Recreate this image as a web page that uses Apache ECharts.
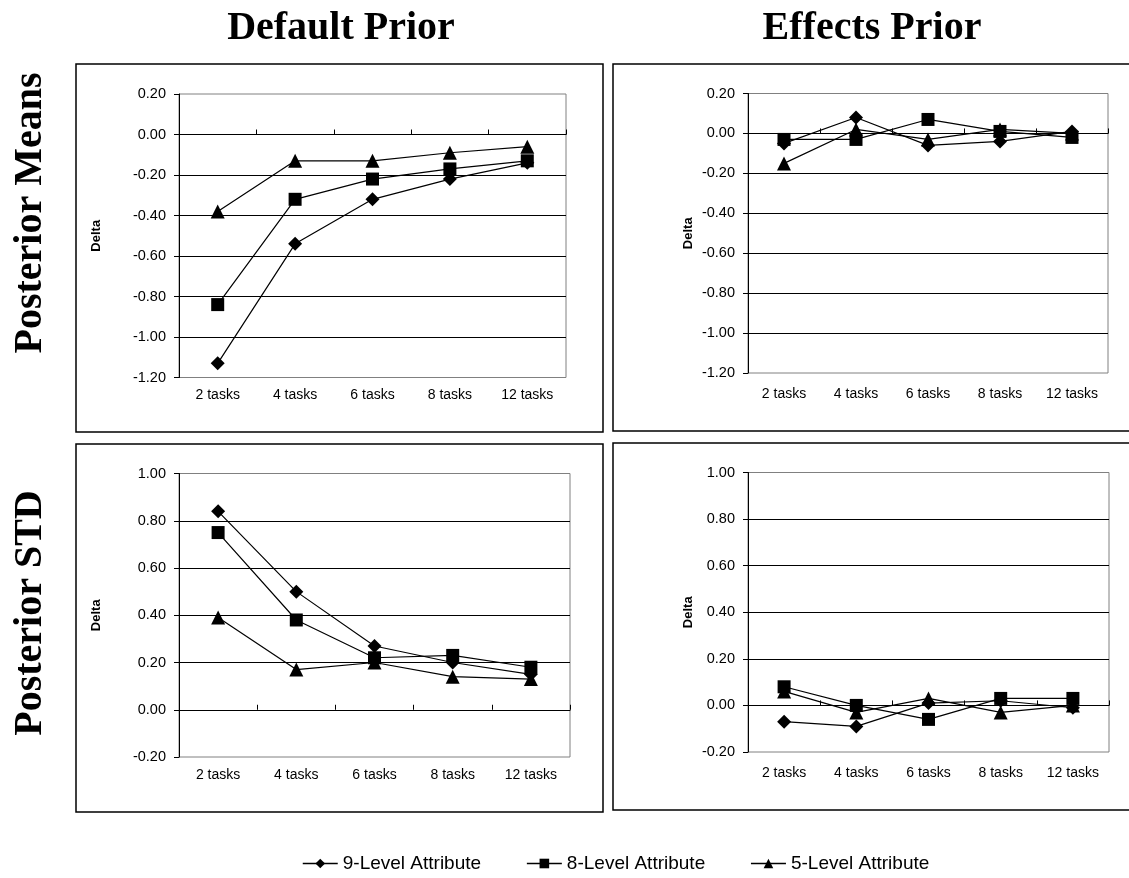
<!DOCTYPE html>
<html>
<head>
<meta charset="utf-8">
<script src="https://cdn.jsdelivr.net/npm/echarts@6/dist/echarts.min.js"></script>
<style>
  html, body { margin:0; padding:0; background:#fff; }
  #chart { width:1129px; height:878px; }
</style>
</head>
<body>
<div id="chart"></div>
<script>
// categories
const tasks = ['2 tasks', '4 tasks', '6 tasks', '8 tasks', '12 tasks'];
const seriesNames = ['9-Level Attribute', '8-Level Attribute', '5-Level Attribute'];

// posterior means, default prior
const defaultMeans9 = [-1.13, -0.54, -0.32, -0.22, -0.14];
const defaultMeans8 = [-0.84, -0.32, -0.22, -0.17, -0.13];
const defaultMeans5 = [-0.38, -0.13, -0.13, -0.09, -0.06];
// posterior means, effects prior
const effectsMeans9 = [-0.05, 0.08, -0.06, -0.04, 0.01];
const effectsMeans8 = [-0.03, -0.03, 0.07, 0.01, -0.02];
const effectsMeans5 = [-0.15, 0.02, -0.03, 0.02, 0.00];
// posterior std, default prior
const defaultStd9 = [0.84, 0.50, 0.27, 0.20, 0.15];
const defaultStd8 = [0.75, 0.38, 0.22, 0.23, 0.18];
const defaultStd5 = [0.39, 0.17, 0.20, 0.14, 0.13];
// posterior std, effects prior
const effectsStd9 = [-0.07, -0.09, 0.01, 0.02, -0.01];
const effectsStd8 = [0.08, 0.00, -0.06, 0.03, 0.03];
const effectsStd5 = [0.06, -0.03, 0.03, -0.03, 0.00];

const SANS = '"Liberation Sans", Arial, sans-serif';
const SERIF = '"Liberation Serif", "Times New Roman", serif';

let myChart = echarts.init(document.getElementById('chart'));

// plot areas, one per panel
const panels = [
    { grid:{ left:179, top:94, width:387, height:283.5 }, min:-1.2, max:0.2, gap:76, labelMargin:11,
      data:[defaultMeans9, defaultMeans8, defaultMeans5] },
    { grid:{ left:748, top:93.5, width:360, height:279.5 }, min:-1.2, max:0.2, gap:53, labelMargin:14,
      data:[effectsMeans9, effectsMeans8, effectsMeans5] },
    { grid:{ left:179, top:473.5, width:391, height:283.5 }, min:-0.2, max:1.0, gap:76, labelMargin:11,
      data:[defaultStd9, defaultStd8, defaultStd5] },
    { grid:{ left:748, top:472.5, width:361, height:279.5 }, min:-0.2, max:1.0, gap:53, labelMargin:14,
      data:[effectsStd9, effectsStd8, effectsStd5] },
];

const symbols = ['diamond', 'rect', 'triangle'];
const symbolSizes = [14, 13, 14];

let grids = [], xAxes = [], yAxes = [], seriesData = [];
panels.forEach((p, i)=>{
    grids.push(Object.assign({ show:true, borderColor:'#808080', borderWidth:1, backgroundColor:'transparent' }, p.grid));
    // label axis along the bottom of the plot
    xAxes.push({
        type:'category', gridIndex:i, data:tasks, position:'bottom',
        axisLine:{ show:false, onZero:false },
        axisTick:{ show:false },
        axisLabel:{ color:'#000', fontSize:14, fontFamily:SANS, margin:p.labelMargin, interval:0 },
        splitLine:{ show:false }
    });
    // axis line through zero with the category ticks
    xAxes.push({
        type:'category', gridIndex:i, data:tasks,
        axisLine:{ show:true, onZero:true, lineStyle:{ color:'#000', width:1 } },
        axisTick:{ show:true, length:5, lineStyle:{ color:'#000' } },
        axisLabel:{ show:false },
        splitLine:{ show:false }
    });
    yAxes.push({
        type:'value', gridIndex:i, min:p.min, max:p.max, interval:0.2,
        name:'Delta', nameLocation:'middle', nameRotate:90, nameGap:p.gap,
        nameTextStyle:{ color:'#000', fontSize:13, fontWeight:'bold', fontFamily:SANS },
        axisLine:{ show:true, lineStyle:{ color:'#000', width:1 } },
        axisTick:{ show:true, length:5, lineStyle:{ color:'#000' } },
        axisLabel:{ color:'#000', fontSize:14.5, fontFamily:SANS, margin:13,
            formatter:(v)=>v.toFixed(2) },
        splitLine:{ show:true, showMinLine:false, showMaxLine:false, lineStyle:{ color:'#000', width:1 } }
    });
    p.data.forEach((arr, k)=>{
        seriesData.push({
            type:'line', name:seriesNames[k],
            xAxisIndex:i * 2, yAxisIndex:i,
            data:arr,
            symbol:symbols[k], symbolSize:symbolSizes[k], showSymbol:true, showAllSymbol:true,
            itemStyle:{ color:'#000' },
            lineStyle:{ color:'#000', width:1.2 },
            emphasis:{ disabled:true },
            animation:false
        });
    });
});

// panel frames and headings
const frames = [
    { x:76, y:64, width:527, height:368 },
    { x:613, y:64, width:530, height:367 },
    { x:76, y:444, width:527, height:368 },
    { x:613, y:443, width:530, height:367 },
];
let graphics = frames.map(f=>({
    type:'rect', shape:f, z:-1,
    style:{ fill:'#fff', stroke:'#000', lineWidth:1.5 }
}));
graphics.push(
    { type:'text', x:341, y:29, style:{ text:'Default Prior', font:'bold 40px ' + SERIF, fill:'#000', textAlign:'center', textVerticalAlign:'middle' } },
    { type:'text', x:872, y:29, style:{ text:'Effects Prior', font:'bold 40px ' + SERIF, fill:'#000', textAlign:'center', textVerticalAlign:'middle' } },
    { type:'text', x:31, y:213, rotation:Math.PI / 2, style:{ text:'Posterior Means', font:'bold 40px ' + SERIF, fill:'#000', textAlign:'center', textVerticalAlign:'middle' } },
    { type:'text', x:31, y:613, rotation:Math.PI / 2, style:{ text:'Posterior STD', font:'bold 40px ' + SERIF, fill:'#000', textAlign:'center', textVerticalAlign:'middle' } }
);

let option = {
    backgroundColor:'#fff',
    animation:false,
    grid:grids,
    xAxis:xAxes,
    yAxis:yAxes,
    legend:{
        left:297, top:849,
        itemWidth:35, itemHeight:12, itemGap:45,
        selectedMode:false,
        lineStyle:{ width:1.5 },
        textStyle:{ color:'#000', fontSize:19, fontFamily:SANS },
        data:seriesNames
    },
    graphic:graphics,
    series:seriesData
};
myChart.setOption(option);
</script>
</body>
</html>
